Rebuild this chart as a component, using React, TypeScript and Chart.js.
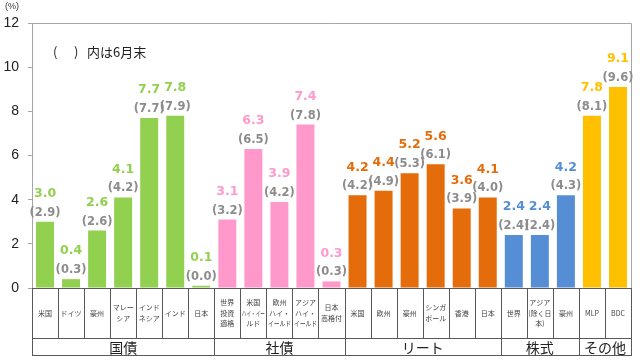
import React, { useEffect, useRef } from 'react';
import { Chart, registerables } from 'chart.js';
Chart.register(...registerables);

const categories: string[][] = [
  ['米国'], ['ドイツ'], ['豪州'], ['マレー', 'シア'], ['インド', 'ネシア'], ['インド'], ['日本'],
  ['世界', '投資', '適格'], ['米国', 'ハイ・イー', 'ルド'], ['欧州', 'ハイ・', 'イールド'], ['アジア', 'ハイ・', 'イールド'], ['日本', '高格付'],
  ['米国'], ['欧州'], ['豪州'], ['シンガ', 'ポール'], ['香港'], ['日本'],
  ['世界'], ['アジア', '(除く日', '本)'], ['豪州'],
  ['MLP'], ['BDC'],
];
const groups = ['国債', '社債', 'リート', '株式', 'その他'];
const groupSizes = [7, 5, 6, 3, 2];
const groupColors = ['#92D050', '#FF99CC', '#E46C0A', '#558ED5', '#FFC000'];
const current = [3.0, 0.4, 2.6, 4.1, 7.7, 7.8, 0.1, 3.1, 6.3, 3.9, 7.4, 0.3, 4.2, 4.4, 5.2, 5.6, 3.6, 4.1, 2.4, 2.4, 4.2, 7.8, 9.1];
const june = [2.9, 0.3, 2.6, 4.2, 7.7, 7.9, 0.0, 3.2, 6.5, 4.2, 7.8, 0.3, 4.2, 4.9, 5.3, 6.1, 3.9, 4.0, 2.4, 2.4, 4.3, 8.1, 9.6];
const yMin = 0;
const yMax = 12;
const yStep = 2;
const unitLabel = '(%)';
const noteParen = ['(', ')'];
const noteText = '内は6月末';

const FONT = '"DejaVu Sans", "Noto Sans CJK JP", sans-serif';
const TFONT = '"Liberation Sans", Arial, sans-serif';
const JFONT = '"Noto Sans CJK JP", "DejaVu Sans", sans-serif';

function groupIndexOf(i: number): number {
  let acc = 0;
  for (let g = 0; g < groupSizes.length; g++) {
    acc += groupSizes[g];
    if (i < acc) return g;
  }
  return groupSizes.length - 1;
}

const tablePlugin = {
  id: 'tablePlugin',
  afterDraw(chart: any) {
    const ctx = chart.ctx as CanvasRenderingContext2D;
    const area = chart.chartArea;
    const xs = chart.scales.x;
    const n = categories.length;
    const step = (area.right - area.left) / n;
    const rowBottom = area.bottom + 50;
    const groupBottom = area.bottom + 67;
    ctx.save();
    // plot border top/right
    ctx.strokeStyle = '#a6a6a6';
    ctx.lineWidth = 1;
    ctx.beginPath();
    ctx.moveTo(area.left, area.top + 0.5);
    ctx.lineTo(Math.round(area.right) + 0.5, area.top + 0.5);
    ctx.lineTo(Math.round(area.right) + 0.5, area.bottom);
    ctx.stroke();

    // table lines
    ctx.strokeStyle = '#595959';
    ctx.beginPath();
    const L = Math.round(area.left) + 0.5;
    const R = Math.round(area.right) + 0.5;
    ctx.moveTo(L, Math.round(area.bottom) + 0.5);
    ctx.lineTo(R, Math.round(area.bottom) + 0.5);
    ctx.moveTo(L, rowBottom + 0.5);
    ctx.lineTo(R, rowBottom + 0.5);
    ctx.moveTo(L, groupBottom + 0.5);
    ctx.lineTo(R, groupBottom + 0.5);
    ctx.moveTo(L, area.bottom);
    ctx.lineTo(L, groupBottom + 1);
    ctx.moveTo(R, area.bottom);
    ctx.lineTo(R, groupBottom + 1);
    for (let i = 1; i < n; i++) {
      const x = Math.round(xs.getPixelForValue(i) - step / 2) + 0.5;
      ctx.moveTo(x, area.bottom);
      ctx.lineTo(x, rowBottom);
    }
    let acc = 0;
    for (let g = 0; g < groupSizes.length - 1; g++) {
      acc += groupSizes[g];
      const x = Math.round(xs.getPixelForValue(acc) - step / 2) + 0.5;
      ctx.moveTo(x, rowBottom);
      ctx.lineTo(x, groupBottom);
    }
    ctx.stroke();

    // category labels
    ctx.fillStyle = '#404040';
    ctx.textAlign = 'center';
    ctx.textBaseline = 'middle';
    ctx.font = `7px ${JFONT}`;
    const midY = (area.bottom + rowBottom) / 2;
    const lh = 10.5;
    categories.forEach((lines, i) => {
      const x = xs.getPixelForValue(i);
      const y0 = midY - ((lines.length - 1) * lh) / 2;
      lines.forEach((t, k) => ctx.fillText(t, x, y0 + k * lh, step - 3));
    });

    // group labels
    ctx.font = `14px ${JFONT}`;
    ctx.fillStyle = '#222222';
    acc = 0;
    groups.forEach((g, gi) => {
      const first = acc;
      const last = acc + groupSizes[gi] - 1;
      acc += groupSizes[gi];
      const x = (xs.getPixelForValue(first) + xs.getPixelForValue(last)) / 2;
      ctx.fillText(g, x, (rowBottom + groupBottom) / 2 + 1);
    });

    // data labels
    const meta = chart.getDatasetMeta(0);
    meta.data.forEach((bar: any, i: number) => {
      const g = groupIndexOf(i);
      ctx.font = `bold 11.5px ${FONT}`;
      ctx.fillStyle = '#8c8c8c';
      ctx.fillText('(' + june[i].toFixed(1) + ')', bar.x, bar.y - 9);
      ctx.font = `bold 12.5px ${FONT}`;
      ctx.fillStyle = groupColors[g];
      ctx.fillText(current[i].toFixed(1), bar.x, bar.y - 28);
    });

    // unit + note
    ctx.fillStyle = '#333333';
    ctx.font = `9px ${TFONT}`;
    ctx.textAlign = 'left';
    ctx.fillText(unitLabel, 5, 7);
    ctx.font = `13px ${JFONT}`;
    ctx.fillStyle = '#222222';
    ctx.fillText(noteParen[0], 53, 52);
    ctx.fillText(noteParen[1], 74, 52);
    ctx.fillText(noteText, 87, 52);
    ctx.restore();
  },
};

export default function App() {
  const ref = useRef<HTMLCanvasElement | null>(null);
  useEffect(() => {
    document.body.style.margin = '0';
    const canvas = ref.current!;
    const chart = new Chart(canvas, {
      type: 'bar',
      data: {
        labels: categories.map((c) => c.join('')),
        datasets: [
          {
            data: current,
            backgroundColor: current.map((_, i) => groupColors[groupIndexOf(i)]),
            categoryPercentage: 1,
            barPercentage: 0.69,
          },
        ],
      },
      options: {
        animation: false,
        responsive: false,
        devicePixelRatio: 1,
        layout: { padding: { top: 23, right: 9, bottom: 73, left: 0 } },
        plugins: { legend: { display: false }, tooltip: { enabled: false } },
        scales: {
          x: { display: false },
          y: {
            min: yMin,
            max: yMax,
            afterFit: (s: any) => { s.width = 32; },
            ticks: { stepSize: yStep, font: { size: 14, family: TFONT }, color: '#222222', padding: 9 },
            grid: { drawOnChartArea: false, tickLength: 4, color: '#a6a6a6' },
            border: { color: '#a6a6a6' },
          },
        },
      },
      plugins: [tablePlugin],
    });
    return () => chart.destroy();
  }, []);
  return <canvas ref={ref} width={640} height={361} style={{ display: 'block', width: 640, height: 361 }} />;
}
